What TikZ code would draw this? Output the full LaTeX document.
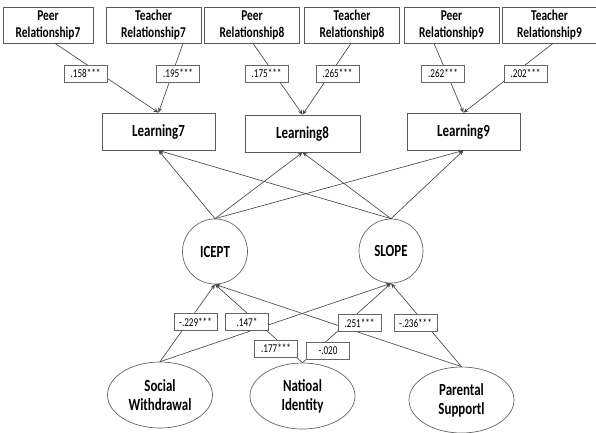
\documentclass[tikz,border=0pt]{standalone}
\usepackage{fontspec}
\setmainfont{Carlito}[FakeStretch=0.76]
\usetikzlibrary{arrows.meta,shapes.geometric,calc}
\begin{document}
\begin{tikzpicture}[x=1pt,y=-1pt,
  obs/.style={draw=black!65,line width=0.8pt,fill=white,minimum width=95pt,minimum height=36pt,inner sep=0pt,align=center,font=\bfseries\fontsize{15}{17}\selectfont},
  lrn/.style={draw=black!65,line width=0.8pt,fill=white,minimum width=113pt,minimum height=37pt,inner sep=0pt,font=\bfseries\fontsize{17}{19}\selectfont},
  lat/.style={draw=black!60,line width=0.7pt,fill=white,circle,minimum size=65pt,inner sep=0pt,font=\bfseries\fontsize{17}{19}\selectfont},
  ell/.style={draw=black!60,line width=0.7pt,fill=white,ellipse,minimum width=105pt,minimum height=66pt,inner sep=0pt,align=center,font=\bfseries\fontsize{17}{19}\selectfont},
  coef/.style={draw=black!60,line width=0.6pt,fill=white,minimum width=43pt,minimum height=17pt,inner sep=0pt,font=\fontsize{12}{13}\selectfont},
  arr/.style={draw=black!72,line width=0.65pt,-{Stealth[length=5pt,width=4pt]}}]
\useasboundingbox (0,0) rectangle (596,432);
% top observed
\node[obs,minimum width=90pt] (p7) at (48,25) {Peer\\Relationship7};
\node[obs] (t7) at (153.5,25) {Teacher\\Relationship7};
\node[obs] (p8) at (252,25) {Peer\\Relationship8};
\node[obs] (t8) at (352,25) {Teacher\\Relationship8};
\node[obs] (p9) at (451.5,25) {Peer\\Relationship9};
\node[obs] (t9) at (549.5,25) {Teacher\\Relationship9};
% learning
\node[lrn] (l7) at (158.5,131.5) {Learning7};
\node[lrn,minimum width=115pt] (l8) at (302.5,133.5) {Learning8};
\node[lrn] (l9) at (463.5,131.5) {Learning9};
% latent
\node[lat] (ic) at (215,251.5) {ICEPT};
\node[lat,minimum size=64pt] (sl) at (391,251) {SLOPE};
% predictors
\node[ell] (sw) at (160,395) {Social\\Withdrawal};
\node[ell] (ni) at (302.5,396) {Natioal\\Identity};
\node[ell] (ps) at (461.5,400) {Parental\\Supportl};
% arrows top
\draw[arr] ([xshift=7pt]p7.south) -- (l7.north);
\draw[arr] ([xshift=29.5pt]t7.south) -- (l7.north);
\draw[arr] ([xshift=1pt]p8.south) -- (l8.north);
\draw[arr] ([xshift=-1pt]t8.south) -- (l8.north);
\draw[arr] ([xshift=-17.5pt]p9.south) -- (l9.north);
\draw[arr] ([xshift=3.5pt]t9.south) -- (l9.north);
% growth
\draw[arr] (ic.north) -- (l7.south);
\draw[arr] (ic.north) -- (l8.south);
\draw[arr] (ic.north) -- (l9.south);
\draw[arr] (sl.north) -- (l7.south);
\draw[arr] (sl.north) -- (l8.south);
\draw[arr] (sl.north) -- (l9.south);
% predictors
\draw[arr] (sw.north) -- (ic.south);
\draw[arr] (sw.north) -- (sl.south);
\draw[arr] (ni.north) -- (ic.south);
\draw[arr] (ni.north) -- (sl.south);
\draw[arr] (ps.north) -- (ic.south);
\draw[arr] (ps.north) -- (sl.south);
% coefficients
\node[coef] (c1) at (85.5,73.5) {.158***};
\node[coef] (c2) at (178,73.5) {.195***};
\node[coef] (c3) at (266.5,73.5) {.175***};
\node[coef] (c4) at (337.5,73.5) {.265***};
\node[coef] (c5) at (443,73.5) {.262***};
\node[coef] (c6) at (525.5,73.5) {.202***};
\node[coef] (c7) at (195.5,322) {-.229***};
\node[coef] (c8) at (247,322) {.147*};
\node[coef] (c9) at (276,348.5) {.177***};
\node[coef] (c10) at (328,350.5) {-.020};
\node[coef] (c11) at (359.5,323) {.251***};
\node[coef] (c12) at (415.5,323) {-.236***};
\end{tikzpicture}
\end{document}
